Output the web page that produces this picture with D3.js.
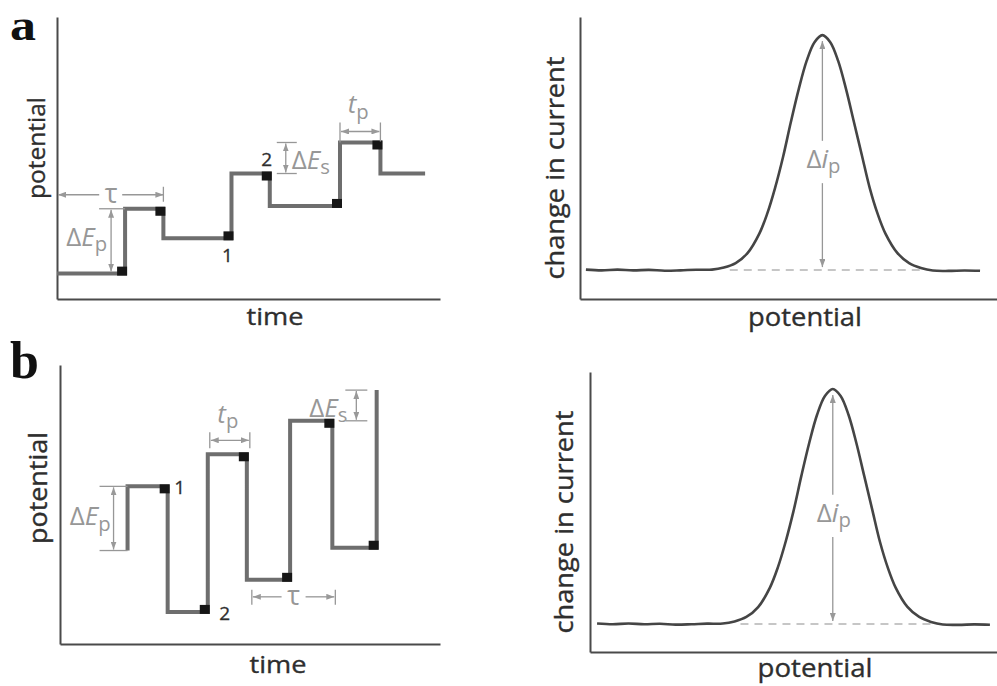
<!DOCTYPE html>
<html><head><meta charset="utf-8">
<script src="https://cdn.jsdelivr.net/npm/d3@7"></script>
<style>body{margin:0;background:#fff} svg{display:block}</style>
</head><body>
<svg id="c" width="997" height="686"></svg>
<script>
// ---------- data ----------
// (a) normal pulse polarography waveform: step times and potential levels
const waveATime = [0, 6.4, 10, 16.4, 20, 26.6, 30.4, 34.6];
const waveAPotential = [0.9, 3.2, 2.15, 4.45, 3.3, 5.55, 4.45, 4.45];
// (b) square-wave waveform
const waveBTime = [6.4, 6.4, 10.2, 14.0, 17.7, 21.8, 25.8, 30.0];
const waveBPotential = [3.35, 5.65, 1.15, 6.8, 2.3, 8.0, 3.45, 9.1];
// peak-shaped response (same shape in both right panels)
const peakPotential = [0, 4, 8, 12, 16, 20, 24, 28, 32, 35, 38, 41, 44, 46, 48, 50, 52, 54, 56, 58, 60, 62, 64, 66, 68, 70, 72, 74, 76, 79, 82, 85, 88, 92, 96, 100];
const peakCurrent   = [0.2, -0.1, 0.2, -0.1, 0.1, -0.25, -0.1, 0.15, 0.2, 1.1, 3.0, 7.2, 15.5, 24, 35, 48, 63, 77, 89, 97, 100, 97, 89, 77, 63, 49, 35, 24, 15.5, 7.3, 3.0, 0.9, -0.2, -0.35, -0.15, -0.3];
const baselineSpan = [36.5, 85.5];
const panelLetters = ["a", "b"];
const axisTitles = { left: ["potential", "time"], right: ["change in current", "potential"] };

// ---------- setup ----------
const svg = d3.select('#c');
svg.append('rect').attr('width', 997).attr('height', 686).attr('fill', '#fff');
const defs = svg.append('defs');
defs.append('marker').attr('id', 'ah').attr('viewBox', '0 0 8 6')
  .attr('refX', 8).attr('refY', 3).attr('markerWidth', 8).attr('markerHeight', 6)
  .attr('markerUnits', 'userSpaceOnUse').attr('orient', 'auto-start-reverse')
  .append('path').attr('d', 'M0,0L8,3L0,6Z').attr('fill', '#999');

const FONT = "'Open Sans', 'Noto Sans', sans-serif";
const ANN = '#979797';

function drawAxes(g, x, y) {
  g.append('g').attr('transform', `translate(0,${y.range()[0]})`)
    .call(d3.axisBottom(x).tickValues([]).tickSizeOuter(0));
  g.append('g').attr('transform', `translate(${x.range()[0]},0)`)
    .call(d3.axisLeft(y).tickValues([]).tickSizeOuter(0));
  g.selectAll('.domain').attr('stroke', '#4a4a4a').attr('stroke-width', 2);
}
function title(g, txt, x, y, len, size, rot) {
  const t = g.append('text').attr('font-family', FONT).attr('font-size', size)
    .attr('fill', '#2e2e2e').attr('text-anchor', 'middle')
    .attr('stroke', '#2e2e2e').attr('stroke-width', 0.35)
    .attr('textLength', len).attr('lengthAdjust', 'spacingAndGlyphs').text(txt);
  if (rot) t.attr('transform', `translate(${x},${y}) rotate(-90)`);
  else t.attr('x', x).attr('y', y);
}
function rich(g, x, y, parts, anchor, size) {
  const t = g.append('text').attr('x', x).attr('y', y).attr('text-anchor', anchor)
    .attr('font-size', size).attr('fill', ANN).attr('font-family', FONT);
  parts.forEach(p => {
    const ts = t.append('tspan').text(p.t);
    if (p.i) ts.attr('font-style', 'italic');
    if (p.sub) ts.attr('font-size', size * 0.78).attr('dy', size * 0.2);
  });
}
function seg(g, x1, y1, x2, y2, arrows) {
  const l = g.append('line').attr('x1', x1).attr('y1', y1).attr('x2', x2).attr('y2', y2)
    .attr('stroke', ANN).attr('stroke-width', 1.3);
  if (arrows === 'both' || arrows === 'start') l.attr('marker-start', 'url(#ah)');
  if (arrows === 'both' || arrows === 'end') l.attr('marker-end', 'url(#ah)');
}
function numLabel(g, txt, x, y) {
  g.append('text').attr('x', x).attr('y', y).attr('text-anchor', 'middle')
    .attr('font-family', FONT).attr('font-size', 19).attr('fill', '#2e2e2e')
    .attr('stroke', '#2e2e2e').attr('stroke-width', 0.3).text(txt);
}
function waveform(g, x, y, times, levels) {
  const pts = times.map((t, i) => [t, levels[i]]);
  g.append('path').datum(pts)
    .attr('d', d3.line().x(d => x(d[0])).y(d => y(d[1])).curve(d3.curveStepAfter))
    .attr('fill', 'none').attr('stroke', '#6e6e6e').attr('stroke-width', 4)
    .attr('stroke-linejoin', 'miter');
  const sq = [];
  for (let i = 0; i < times.length - 1; i++) {
    if (times[i + 1] > times[i] && levels[i + 1] !== levels[i]) sq.push({ t: times[i + 1], e: levels[i], up: levels[i + 1] > levels[i] });
  }
  g.selectAll('rect.s').data(sq).join('rect').attr('class', 's')
    .attr('x', d => x(d.t) - 8).attr('width', 10)
    .attr('y', d => y(d.e) + (d.up ? -7 : -2)).attr('height', 9)
    .attr('fill', '#161616');
}
function peakPanel(g, x, y) {
  drawAxes(g, x, y);
  g.append('line').attr('x1', x(baselineSpan[0])).attr('x2', x(baselineSpan[1]))
    .attr('y1', y(0)).attr('y2', y(0)).attr('stroke', '#b4b4b4')
    .attr('stroke-width', 1.5).attr('stroke-dasharray', '8,6');
  const pts = peakPotential.map((p, i) => [p, peakCurrent[i]]);
  g.append('path').datum(pts)
    .attr('d', d3.line().x(d => x(d[0])).y(d => y(d[1])).curve(d3.curveCatmullRom))
    .attr('fill', 'none').attr('stroke', '#454545').attr('stroke-width', 2.6);
  const pk = peakPotential[peakCurrent.indexOf(d3.max(peakCurrent))];
  const px = x(pk);
  seg(g, px, y(0) - 3, px, y(37), 'start');
  seg(g, px, y(55), px, y(100) + 6, 'end');
  rich(g, px - 16, y(43.4), [{ t: 'Δ' }, { t: 'i', i: 1 }, { t: 'p', sub: 1 }], 'start', 26);
}

// ---------- panel a, left ----------
{
  const g = svg.append('g');
  const x = d3.scaleLinear([0, 36], [57, 440]);
  const y = d3.scaleLinear([0, 10], [299, 17]);
  drawAxes(g, x, y);
  waveform(g, x, y, waveATime, waveAPotential);
  // tau
  const ty = y(waveAPotential[1]) - 14;
  const tm = (x(0) + x(waveATime[2])) / 2;
  seg(g, tm - 11, ty, x(0) + 1, ty, 'end');
  seg(g, tm + 12, ty, x(waveATime[2]), ty, 'end');
  seg(g, x(waveATime[2]), ty - 8, x(waveATime[2]), ty + 7);
  rich(g, tm + 1, ty + 8, [{ t: 'τ' }], 'middle', 27);
  // Delta E p
  const ex = x(waveATime[1]) - 14;
  seg(g, ex - 12, y(waveAPotential[1]), x(waveATime[1]), y(waveAPotential[1]));
  seg(g, ex, y(waveAPotential[1]) + 1, ex, y(waveAPotential[0]) - 2, 'both');
  rich(g, ex - 4, y(waveAPotential[1]) + 37, [{ t: 'Δ' }, { t: 'E', i: 1 }, { t: 'p', sub: 1 }], 'end', 26);
  numLabel(g, '1', x(waveATime[3]) - 4, y(waveAPotential[2]) + 24);
  numLabel(g, '2', x(waveATime[4]) - 3, y(waveAPotential[3]) - 8);
  // Delta E s
  const sx = x(waveATime[4]);
  seg(g, sx + 7, y(waveAPotential[5]), sx + 27, y(waveAPotential[5]));
  seg(g, sx + 7, y(waveAPotential[3]), sx + 27, y(waveAPotential[3]));
  seg(g, sx + 16, y(waveAPotential[5]) + 1, sx + 16, y(waveAPotential[3]) - 1, 'both');
  rich(g, sx + 22, y(waveAPotential[3]) - 5, [{ t: 'Δ' }, { t: 'E', i: 1 }, { t: 's', sub: 1 }], 'start', 26);
  // t p
  const py = y(waveAPotential[5]) - 11;
  seg(g, x(waveATime[5]), py - 9, x(waveATime[5]), y(waveAPotential[5]));
  seg(g, x(waveATime[6]), py - 9, x(waveATime[6]), y(waveAPotential[5]) - 1);
  seg(g, x(waveATime[5]) + 1, py, x(waveATime[6]) - 1, py, 'both');
  rich(g, (x(waveATime[5]) + x(waveATime[6])) / 2 - 2, py - 18, [{ t: 't', i: 1 }, { t: 'p', sub: 1 }], 'middle', 26);
  title(g, axisTitles.left[0], 45, 148, 102, 24, true);
  title(g, axisTitles.left[1], 275, 325, 57, 24, false);
  g.append('text').attr('x', 10).attr('y', 39.5).attr('font-family', "'Liberation Serif', serif")
    .attr('font-weight', 'bold').attr('font-size', 44).attr('fill', '#111')
    .attr('textLength', 26).attr('lengthAdjust', 'spacingAndGlyphs').text(panelLetters[0]);
}

// ---------- panel b, left ----------
{
  const g = svg.append('g');
  const x = d3.scaleLinear([0, 36], [60, 440]);
  const y = d3.scaleLinear([0, 10], [644, 365]);
  drawAxes(g, x, y);
  waveform(g, x, y, waveBTime, waveBPotential);
  // Delta E p
  const ex = x(waveBTime[1]) - 14;
  seg(g, ex - 14, y(waveBPotential[1]), x(waveBTime[1]), y(waveBPotential[1]));
  seg(g, ex - 14, y(waveBPotential[0]), x(waveBTime[1]), y(waveBPotential[0]));
  seg(g, ex, y(waveBPotential[1]) + 1, ex, y(waveBPotential[0]) - 1, 'both');
  rich(g, ex - 3, y(waveBPotential[1]) + 39, [{ t: 'Δ' }, { t: 'E', i: 1 }, { t: 'p', sub: 1 }], 'end', 26);
  numLabel(g, '1', x(waveBTime[2]) + 12, y(waveBPotential[1]) + 8);
  numLabel(g, '2', x(waveBTime[3]) + 17, y(waveBPotential[2]) + 8);
  // t p
  const py = y(waveBPotential[3]) - 14;
  const p1 = x(waveBTime[3]) + 2, p2 = x(waveBTime[4]) + 3;
  seg(g, p1, py - 8, p1, py + 8);
  seg(g, p2, py - 8, p2, py + 8);
  seg(g, p1 + 1, py, p2 - 1, py, 'both');
  rich(g, (p1 + p2) / 2 - 2, py - 17, [{ t: 't', i: 1 }, { t: 'p', sub: 1 }], 'middle', 26);
  // Delta E s
  const sx = x(waveBTime[6]);
  seg(g, sx + 13, y(waveBPotential[7]), sx + 35, y(waveBPotential[7]));
  seg(g, sx + 13, y(waveBPotential[5]), sx + 35, y(waveBPotential[5]));
  seg(g, sx + 24, y(waveBPotential[7]) + 1, sx + 24, y(waveBPotential[5]) - 1, 'both');
  rich(g, sx + 15, y(waveBPotential[5]) - 4, [{ t: 'Δ' }, { t: 'E', i: 1 }, { t: 's', sub: 1 }], 'end', 26);
  // tau
  const ty = y(waveBPotential[4]) + 17;
  const a1 = x(waveBTime[4]) + 5, a2 = x(waveBTime[6]) + 3;
  const am = (a1 + a2) / 2;
  seg(g, a1, ty - 7, a1, ty + 8);
  seg(g, a2, ty - 7, a2, ty + 8);
  seg(g, am - 12, ty, a1 + 1, ty, 'end');
  seg(g, am + 12, ty, a2 - 1, ty, 'end');
  rich(g, am, ty + 8, [{ t: 'τ' }], 'middle', 27);
  title(g, axisTitles.left[0], 47, 488, 112, 25, true);
  title(g, axisTitles.left[1], 278, 673, 57, 24, false);
  g.append('text').attr('x', 10).attr('y', 378).attr('font-family', "'Liberation Serif', serif")
    .attr('font-weight', 'bold').attr('font-size', 52).attr('fill', '#111').text(panelLetters[1]);
}

// ---------- panel a, right ----------
{
  const g = svg.append('g');
  const x = d3.scaleLinear([-1.5, 104.3], [580, 997]);
  const y = d3.scaleLinear([-12.3, 107.7], [299, 17]);
  peakPanel(g, x, y);
  title(g, axisTitles.right[0], 564, 168, 223, 26, true);
  title(g, axisTitles.right[1], 805, 326, 114, 26, false);
}

// ---------- panel b, right ----------
{
  const g = svg.append('g');
  const x = d3.scaleLinear([-1.8, 101.8], [590, 997]);
  const y = d3.scaleLinear([-11.9, 107.2], [652, 372]);
  peakPanel(g, x, y);
  title(g, axisTitles.right[0], 573, 522, 223, 26, true);
  title(g, axisTitles.right[1], 815, 677, 115, 26, false);
}
</script>
</body></html>
